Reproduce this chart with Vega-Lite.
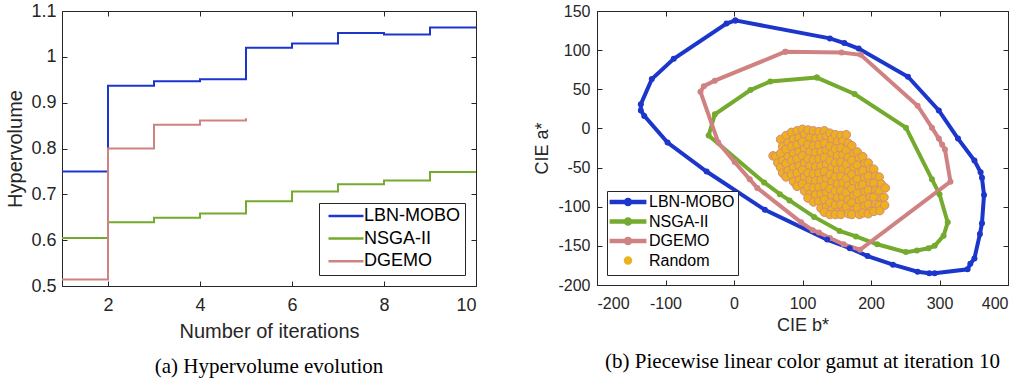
{
"$schema": "https://vega.github.io/schema/vega-lite/v6.json",
"background": "white",
"padding": {"left": 5, "top": 1, "right": 2, "bottom": 5},
"spacing": 52,
"resolve": {"legend": {"color": "independent", "stroke": "independent", "shape": "independent"}},
"config": {
  "locale": {"number": {"decimal": ".", "thousands": ",", "grouping": [3], "currency": ["$", ""], "minus": "-"}},
  "view": {"stroke": "#262626", "strokeWidth": 1},
  "font": "Liberation Sans",
  "axis": {"grid": false, "domain": false, "ticks": true, "tickColor": "#262626", "tickSize": 5, "offset": -5, "tickWidth": 1, "labelColor": "#262626", "titleColor": "#262626", "titleFontWeight": "normal", "labelFont": "Liberation Sans", "titleFont": "Liberation Sans"},
  "title": {"font": "Liberation Serif", "fontWeight": "normal", "color": "#000000", "fontSize": 21}
},
"datasets": {
  "hv": [
    {"s": "LBN-MOBO", "it": 1, "hv": 0.75}, {"s": "LBN-MOBO", "it": 2, "hv": 0.937}, {"s": "LBN-MOBO", "it": 3, "hv": 0.947}, {"s": "LBN-MOBO", "it": 4, "hv": 0.951}, {"s": "LBN-MOBO", "it": 5, "hv": 1.02}, {"s": "LBN-MOBO", "it": 6, "hv": 1.029}, {"s": "LBN-MOBO", "it": 7, "hv": 1.052}, {"s": "LBN-MOBO", "it": 8, "hv": 1.049}, {"s": "LBN-MOBO", "it": 9, "hv": 1.064}, {"s": "LBN-MOBO", "it": 10, "hv": 1.064},
    {"s": "NSGA-II", "it": 1, "hv": 0.605}, {"s": "NSGA-II", "it": 2, "hv": 0.639}, {"s": "NSGA-II", "it": 3, "hv": 0.649}, {"s": "NSGA-II", "it": 4, "hv": 0.658}, {"s": "NSGA-II", "it": 5, "hv": 0.685}, {"s": "NSGA-II", "it": 6, "hv": 0.706}, {"s": "NSGA-II", "it": 7, "hv": 0.722}, {"s": "NSGA-II", "it": 8, "hv": 0.73}, {"s": "NSGA-II", "it": 9, "hv": 0.749}, {"s": "NSGA-II", "it": 10, "hv": 0.749},
    {"s": "DGEMO", "it": 1, "hv": 0.514}, {"s": "DGEMO", "it": 2, "hv": 0.8}, {"s": "DGEMO", "it": 3, "hv": 0.852}, {"s": "DGEMO", "it": 4, "hv": 0.861}, {"s": "DGEMO", "it": 5, "hv": 0.866}
  ],
  "gam": [
    {"s": "LBN-MOBO", "i": 0, "b": 2, "a": 138}, {"s": "LBN-MOBO", "i": 1, "b": 140, "a": 115}, {"s": "LBN-MOBO", "i": 2, "b": 161, "a": 109}, {"s": "LBN-MOBO", "i": 3, "b": 182, "a": 102}, {"s": "LBN-MOBO", "i": 4, "b": 254, "a": 66}, {"s": "LBN-MOBO", "i": 5, "b": 299, "a": 23}, {"s": "LBN-MOBO", "i": 6, "b": 327, "a": -13}, {"s": "LBN-MOBO", "i": 7, "b": 351, "a": -41}, {"s": "LBN-MOBO", "i": 8, "b": 360, "a": -56}, {"s": "LBN-MOBO", "i": 9, "b": 362, "a": -63}, {"s": "LBN-MOBO", "i": 10, "b": 365, "a": -85}, {"s": "LBN-MOBO", "i": 11, "b": 362, "a": -121}, {"s": "LBN-MOBO", "i": 12, "b": 359, "a": -135}, {"s": "LBN-MOBO", "i": 13, "b": 351, "a": -166}, {"s": "LBN-MOBO", "i": 14, "b": 345, "a": -173}, {"s": "LBN-MOBO", "i": 15, "b": 341, "a": -180}, {"s": "LBN-MOBO", "i": 16, "b": 293, "a": -185}, {"s": "LBN-MOBO", "i": 17, "b": 285, "a": -185}, {"s": "LBN-MOBO", "i": 18, "b": 268, "a": -183}, {"s": "LBN-MOBO", "i": 19, "b": 232, "a": -174}, {"s": "LBN-MOBO", "i": 20, "b": 195, "a": -163}, {"s": "LBN-MOBO", "i": 21, "b": 169, "a": -153}, {"s": "LBN-MOBO", "i": 22, "b": 136, "a": -142}, {"s": "LBN-MOBO", "i": 23, "b": 45, "a": -104}, {"s": "LBN-MOBO", "i": 24, "b": -40, "a": -55}, {"s": "LBN-MOBO", "i": 25, "b": -97, "a": -18}, {"s": "LBN-MOBO", "i": 26, "b": -131, "a": 16}, {"s": "LBN-MOBO", "i": 27, "b": -136, "a": 23}, {"s": "LBN-MOBO", "i": 28, "b": -136, "a": 31}, {"s": "LBN-MOBO", "i": 29, "b": -120, "a": 63}, {"s": "LBN-MOBO", "i": 30, "b": -88, "a": 89}, {"s": "LBN-MOBO", "i": 31, "b": -11, "a": 134}, {"s": "LBN-MOBO", "i": 32, "b": 2, "a": 138},
    {"s": "NSGA-II", "i": 0, "b": 121, "a": 65}, {"s": "NSGA-II", "i": 1, "b": 176, "a": 44}, {"s": "NSGA-II", "i": 2, "b": 251, "a": 1}, {"s": "NSGA-II", "i": 3, "b": 289, "a": -65}, {"s": "NSGA-II", "i": 4, "b": 300, "a": -84}, {"s": "NSGA-II", "i": 5, "b": 312, "a": -120}, {"s": "NSGA-II", "i": 6, "b": 306, "a": -137}, {"s": "NSGA-II", "i": 7, "b": 293, "a": -150}, {"s": "NSGA-II", "i": 8, "b": 284, "a": -153}, {"s": "NSGA-II", "i": 9, "b": 267, "a": -156}, {"s": "NSGA-II", "i": 10, "b": 251, "a": -158}, {"s": "NSGA-II", "i": 11, "b": 209, "a": -148}, {"s": "NSGA-II", "i": 12, "b": 178, "a": -138}, {"s": "NSGA-II", "i": 13, "b": 154, "a": -131}, {"s": "NSGA-II", "i": 14, "b": 117, "a": -113}, {"s": "NSGA-II", "i": 15, "b": 81, "a": -92}, {"s": "NSGA-II", "i": 16, "b": 67, "a": -84}, {"s": "NSGA-II", "i": 17, "b": 44, "a": -69}, {"s": "NSGA-II", "i": 18, "b": -37, "a": -9}, {"s": "NSGA-II", "i": 19, "b": -28, "a": 18}, {"s": "NSGA-II", "i": 20, "b": 24, "a": 49}, {"s": "NSGA-II", "i": 21, "b": 53, "a": 60}, {"s": "NSGA-II", "i": 22, "b": 121, "a": 65},
    {"s": "DGEMO", "i": 0, "b": 75, "a": 98}, {"s": "DGEMO", "i": 1, "b": 157, "a": 97}, {"s": "DGEMO", "i": 2, "b": 185, "a": 94}, {"s": "DGEMO", "i": 3, "b": 268, "a": 29}, {"s": "DGEMO", "i": 4, "b": 289, "a": 1}, {"s": "DGEMO", "i": 5, "b": 299, "a": -13}, {"s": "DGEMO", "i": 6, "b": 304, "a": -21}, {"s": "DGEMO", "i": 7, "b": 308, "a": -27}, {"s": "DGEMO", "i": 8, "b": 316, "a": -68}, {"s": "DGEMO", "i": 9, "b": 184, "a": -155}, {"s": "DGEMO", "i": 10, "b": 160, "a": -148}, {"s": "DGEMO", "i": 11, "b": 140, "a": -140}, {"s": "DGEMO", "i": 12, "b": 124, "a": -133}, {"s": "DGEMO", "i": 13, "b": 115, "a": -130}, {"s": "DGEMO", "i": 14, "b": 98, "a": -120}, {"s": "DGEMO", "i": 15, "b": 34, "a": -76}, {"s": "DGEMO", "i": 16, "b": 23, "a": -65}, {"s": "DGEMO", "i": 17, "b": 1, "a": -43}, {"s": "DGEMO", "i": 18, "b": -23, "a": -18}, {"s": "DGEMO", "i": 19, "b": -49, "a": 47}, {"s": "DGEMO", "i": 20, "b": -44, "a": 54}, {"s": "DGEMO", "i": 21, "b": -28, "a": 61}, {"s": "DGEMO", "i": 22, "b": 75, "a": 98}
  ],
  "rnd": [
    {"b": 57, "a": -35}, {"b": 61, "a": -36}, {"b": 64, "a": -44},
    {"b": 68, "a": -14}, {"b": 71, "a": -23}, {"b": 68, "a": -32}, {"b": 71, "a": -41}, {"b": 68, "a": -50}, {"b": 71, "a": -57},
    {"b": 76, "a": -9}, {"b": 79, "a": -18}, {"b": 76, "a": -27}, {"b": 79, "a": -36}, {"b": 76, "a": -45}, {"b": 79, "a": -54}, {"b": 76, "a": -62},
    {"b": 84, "a": -5}, {"b": 87, "a": -14}, {"b": 84, "a": -23}, {"b": 87, "a": -32}, {"b": 84, "a": -41}, {"b": 87, "a": -50}, {"b": 84, "a": -59}, {"b": 87, "a": -68},
    {"b": 92, "a": -3}, {"b": 95, "a": -12}, {"b": 92, "a": -21}, {"b": 95, "a": -30}, {"b": 92, "a": -39}, {"b": 95, "a": -48}, {"b": 92, "a": -57}, {"b": 95, "a": -66}, {"b": 92, "a": -74},
    {"b": 100, "a": -1}, {"b": 103, "a": -8}, {"b": 100, "a": -17}, {"b": 103, "a": -26}, {"b": 100, "a": -35}, {"b": 103, "a": -44}, {"b": 100, "a": -53}, {"b": 103, "a": -62}, {"b": 100, "a": -71}, {"b": 103, "a": -80},
    {"b": 108, "a": -2}, {"b": 111, "a": -12}, {"b": 108, "a": -21}, {"b": 111, "a": -30}, {"b": 108, "a": -39}, {"b": 111, "a": -48}, {"b": 108, "a": -57}, {"b": 111, "a": -66}, {"b": 108, "a": -75}, {"b": 111, "a": -84}, {"b": 108, "a": -89},
    {"b": 116, "a": -3}, {"b": 119, "a": -13}, {"b": 116, "a": -22}, {"b": 119, "a": -31}, {"b": 116, "a": -40}, {"b": 119, "a": -49}, {"b": 116, "a": -58}, {"b": 119, "a": -67}, {"b": 116, "a": -76}, {"b": 119, "a": -85}, {"b": 116, "a": -94},
    {"b": 124, "a": -4}, {"b": 127, "a": -12}, {"b": 124, "a": -21}, {"b": 127, "a": -30}, {"b": 124, "a": -39}, {"b": 127, "a": -48}, {"b": 124, "a": -57}, {"b": 127, "a": -66}, {"b": 124, "a": -75}, {"b": 127, "a": -84}, {"b": 124, "a": -93}, {"b": 127, "a": -102},
    {"b": 132, "a": -3}, {"b": 135, "a": -10}, {"b": 132, "a": -19}, {"b": 135, "a": -28}, {"b": 132, "a": -37}, {"b": 135, "a": -46}, {"b": 132, "a": -55}, {"b": 135, "a": -64}, {"b": 132, "a": -73}, {"b": 135, "a": -82}, {"b": 132, "a": -91}, {"b": 135, "a": -100}, {"b": 132, "a": -107},
    {"b": 140, "a": -6}, {"b": 143, "a": -14}, {"b": 140, "a": -23}, {"b": 143, "a": -32}, {"b": 140, "a": -41}, {"b": 143, "a": -50}, {"b": 140, "a": -59}, {"b": 143, "a": -68}, {"b": 140, "a": -77}, {"b": 143, "a": -86}, {"b": 140, "a": -95}, {"b": 143, "a": -104}, {"b": 140, "a": -110},
    {"b": 148, "a": -8}, {"b": 151, "a": -17}, {"b": 148, "a": -26}, {"b": 151, "a": -35}, {"b": 148, "a": -44}, {"b": 151, "a": -53}, {"b": 148, "a": -62}, {"b": 151, "a": -71}, {"b": 148, "a": -80}, {"b": 151, "a": -89}, {"b": 148, "a": -98}, {"b": 151, "a": -107}, {"b": 148, "a": -110},
    {"b": 156, "a": -9}, {"b": 159, "a": -16}, {"b": 156, "a": -25}, {"b": 159, "a": -34}, {"b": 156, "a": -43}, {"b": 159, "a": -52}, {"b": 156, "a": -61}, {"b": 159, "a": -70}, {"b": 156, "a": -79}, {"b": 159, "a": -88}, {"b": 156, "a": -97}, {"b": 159, "a": -106}, {"b": 156, "a": -110},
    {"b": 164, "a": -8}, {"b": 167, "a": -19}, {"b": 164, "a": -28}, {"b": 167, "a": -37}, {"b": 164, "a": -46}, {"b": 167, "a": -55}, {"b": 164, "a": -64}, {"b": 167, "a": -73}, {"b": 164, "a": -82}, {"b": 167, "a": -91}, {"b": 164, "a": -100}, {"b": 167, "a": -109},
    {"b": 172, "a": -22}, {"b": 175, "a": -32}, {"b": 172, "a": -41}, {"b": 175, "a": -50}, {"b": 172, "a": -59}, {"b": 175, "a": -68}, {"b": 172, "a": -77}, {"b": 175, "a": -86}, {"b": 172, "a": -95}, {"b": 175, "a": -104}, {"b": 172, "a": -110},
    {"b": 180, "a": -30}, {"b": 183, "a": -38}, {"b": 180, "a": -47}, {"b": 183, "a": -56}, {"b": 180, "a": -65}, {"b": 183, "a": -74}, {"b": 180, "a": -83}, {"b": 183, "a": -92}, {"b": 180, "a": -101}, {"b": 183, "a": -110},
    {"b": 188, "a": -36}, {"b": 191, "a": -45}, {"b": 188, "a": -54}, {"b": 191, "a": -63}, {"b": 188, "a": -72}, {"b": 191, "a": -81}, {"b": 188, "a": -90}, {"b": 191, "a": -99}, {"b": 188, "a": -108},
    {"b": 196, "a": -44}, {"b": 199, "a": -52}, {"b": 196, "a": -61}, {"b": 199, "a": -70}, {"b": 196, "a": -79}, {"b": 199, "a": -88}, {"b": 196, "a": -97}, {"b": 199, "a": -106}, {"b": 196, "a": -109},
    {"b": 204, "a": -52}, {"b": 207, "a": -61}, {"b": 204, "a": -70}, {"b": 207, "a": -79}, {"b": 204, "a": -88}, {"b": 207, "a": -97}, {"b": 204, "a": -106},
    {"b": 212, "a": -62}, {"b": 215, "a": -71}, {"b": 212, "a": -80}, {"b": 215, "a": -89}, {"b": 212, "a": -98}, {"b": 213, "a": -105},
    {"b": 221, "a": -76}, {"b": 219, "a": -88}, {"b": 220, "a": -98}
  ]
},
"hconcat": [
  {
    "width": 414, "height": 275,
    "title": {"text": "(a) Hypervolume evolution", "orient": "bottom", "offset": 15, "anchor": "middle"},
    "resolve": {"axis": {"x": "independent", "y": "independent"}},
    "layer": [
      {
        "data": {"name": "hv"},
        "mark": {"type": "line", "interpolate": "step-after", "strokeWidth": 2},
        "encoding": {
          "x": {"field": "it", "type": "quantitative", "scale": {"domain": [1, 10], "nice": false, "zero": false},
                "axis": {"orient": "bottom", "values": [2, 4, 6, 8, 10], "title": "Number of iterations", "labelFontSize": 18, "titleFontSize": 20, "labelPadding": 10, "titlePadding": 7}},
          "y": {"field": "hv", "type": "quantitative", "scale": {"domain": [0.5, 1.1], "nice": false, "zero": false},
                "axis": {"orient": "left", "values": [0.5, 0.6, 0.7, 0.8, 0.9, 1, 1.1], "format": ".2~f", "title": "Hypervolume", "labelFontSize": 18, "titleFontSize": 20, "labelPadding": 6, "titlePadding": 5}},
          "color": {"field": "s", "type": "nominal",
                    "scale": {"domain": ["LBN-MOBO", "NSGA-II", "DGEMO"], "range": ["#1c36cc", "#74aa2e", "#d08282"]},
                    "legend": {"orient": "bottom-right", "offset": 11, "title": null, "strokeColor": "#262626", "fillColor": "#ffffff", "padding": 4, "labelFontSize": 18, "labelColor": "#000000", "labelFont": "Liberation Sans", "symbolType": "M-4.375,0H4.375", "symbolSize": 64, "symbolStrokeWidth": 2.5, "symbolOffset": 14, "labelOffset": 9, "rowPadding": 4.6}}
        }
      },
      {
        "data": {"name": "hv"},
        "mark": {"type": "point", "opacity": 0},
        "encoding": {
          "x": {"field": "it", "type": "quantitative", "axis": {"orient": "top", "labels": false, "title": null, "values": [2, 4, 6, 8, 10]}},
          "y": {"field": "hv", "type": "quantitative", "axis": {"orient": "right", "labels": false, "title": null, "values": [0.5, 0.6, 0.7, 0.8, 0.9, 1, 1.1]}}
        }
      }
    ]
  },
  {
    "width": 411, "height": 274,
    "title": {"text": "(b) Piecewise linear color gamut at iteration 10", "orient": "bottom", "offset": 17, "anchor": "middle"},
    "resolve": {"axis": {"x": "independent", "y": "independent"}},
    "layer": [
      {
        "data": {"name": "rnd"},
        "mark": {"type": "point", "filled": true, "size": 72, "fill": "#edb120", "stroke": "#d6897a", "strokeWidth": 1, "opacity": 1},
        "encoding": {
          "x": {"field": "b", "type": "quantitative", "scale": {"domain": [-200, 400], "nice": false, "zero": false},
                "axis": {"orient": "bottom", "values": [-200, -100, 0, 100, 200, 300, 400], "title": "CIE b*", "labelFontSize": 16, "titleFontSize": 18, "labelPadding": 10, "titlePadding": 5}},
          "y": {"field": "a", "type": "quantitative", "scale": {"domain": [-200, 150], "nice": false, "zero": false},
                "axis": {"orient": "left", "values": [-200, -150, -100, -50, 0, 50, 100, 150], "title": "CIE a*", "labelFontSize": 16, "titleFontSize": 18, "labelPadding": 7, "titlePadding": 6}}
        }
      },
      {
        "data": {"name": "gam"},
        "mark": {"type": "line", "strokeWidth": 4, "point": {"filled": true, "size": 36}},
        "encoding": {
          "x": {"field": "b", "type": "quantitative", "axis": null},
          "y": {"field": "a", "type": "quantitative", "axis": null},
          "order": {"field": "i", "type": "quantitative"},
          "color": {"field": "s", "type": "nominal", "legend": null}
        }
      },
      {
        "data": {"name": "gam"},
        "mark": {"type": "point", "opacity": 0, "filled": false, "strokeWidth": 4.5},
        "encoding": {
          "x": {"field": "b", "type": "quantitative", "axis": {"orient": "top", "labels": false, "title": null, "values": [-200, -100, 0, 100, 200, 300, 400]}},
          "y": {"field": "a", "type": "quantitative", "axis": {"orient": "right", "labels": false, "title": null, "values": [-200, -150, -100, -50, 0, 50, 100, 150]}},
          "stroke": {"field": "s", "type": "nominal", "title": null,
                     "scale": {"domain": ["LBN-MOBO", "NSGA-II", "DGEMO", "Random"], "range": ["#1c36cc", "#74aa2e", "#d08282", "#edb120"]},
                     "legend": {"orient": "bottom-left", "offset": 10, "title": null, "strokeColor": "#262626", "fillColor": "#ffffff", "padding": 3, "labelFontSize": 16, "labelColor": "#000000", "labelFont": "Liberation Sans", "symbolSize": 64, "symbolStrokeWidth": 4.5, "symbolOpacity": 1, "symbolOffset": 10, "labelOffset": 13, "rowPadding": -2.5}},
          "shape": {"field": "s", "type": "nominal", "title": null,
                    "scale": {"domain": ["LBN-MOBO", "NSGA-II", "DGEMO", "Random"], "range": ["M-4.6,0H4.6M0.5,0A0.5,0.5,0,1,1,-0.5,0A0.5,0.5,0,1,1,0.5,0", "M-4.6,0H4.6M0.5,0A0.5,0.5,0,1,1,-0.5,0A0.5,0.5,0,1,1,0.5,0", "M-4.6,0H4.6M0.5,0A0.5,0.5,0,1,1,-0.5,0A0.5,0.5,0,1,1,0.5,0", "M0.5,0A0.5,0.5,0,1,1,-0.5,0A0.5,0.5,0,1,1,0.5,0"]},
                    "legend": {"orient": "bottom-left", "offset": 10, "title": null, "strokeColor": "#262626", "fillColor": "#ffffff", "padding": 3, "labelFontSize": 16, "labelColor": "#000000", "labelFont": "Liberation Sans", "symbolSize": 64, "symbolStrokeWidth": 4.5, "symbolOpacity": 1, "symbolOffset": 10, "labelOffset": 13, "rowPadding": -2.5}}
        }
      }
    ]
  }
]
}
